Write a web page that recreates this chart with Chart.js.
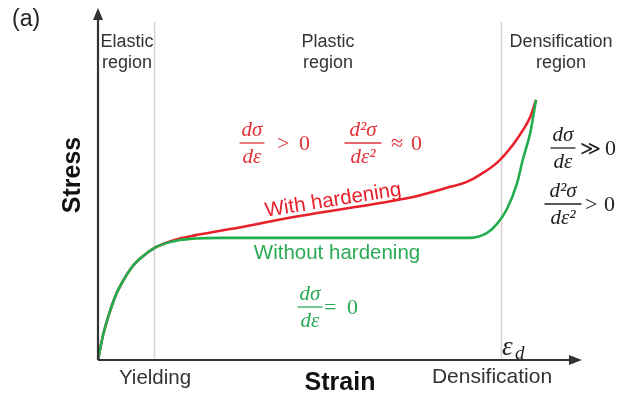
<!DOCTYPE html>
<html>
<head>
<meta charset="utf-8">
<script src="https://cdn.jsdelivr.net/npm/chart.js@4.4.1/dist/chart.umd.min.js"></script>
<style>
html,body{margin:0;padding:0;background:#fff;}
#c{display:block;}
</style>
</head>
<body>
<canvas id="c" width="625" height="398"></canvas>
<script>
// ---- data (schematic stress-strain curves) ----
const strainGreen = [0, 1.0, 2.3, 3.7, 5.4, 7.2, 9.3, 11.6, 14.1, 16.9, 20.0, 25.2, 40.0, 55.0, 68.6, 76.9, 80.4, 82.4, 84.5, 86.6, 87.8, 89.3, 90.5];
const stressGreen = [0, 6.8, 13.1, 18.5, 23.0, 26.7, 29.5, 31.8, 33.2, 34.1, 34.5, 34.7, 34.7, 34.7, 34.7, 34.7, 36.1, 38.6, 42.9, 50.3, 57.1, 64.5, 73.9];
const strainRed   = [0, 1.0, 2.3, 3.7, 5.4, 7.2, 9.3, 11.6, 14.1, 16.9, 20.0, 27.3, 41.7, 58.3, 65.1, 72.1, 76.2, 78.9, 82.4, 85.7, 87.8, 89.3, 90.5];
const stressRed   = [0, 6.8, 13.1, 18.5, 23.0, 26.7, 29.5, 31.8, 33.3, 34.5, 35.4, 37.2, 40.9, 44.6, 46.3, 48.9, 50.6, 52.6, 56.0, 61.1, 65.3, 69.0, 73.9];
const regionBounds = [11.6, 83.3];          // yielding strain, densification strain
const regionNames = [["Elastic","region"],["Plastic","region"],["Densification","region"]];
const seriesNames = ["With hardening", "Without hardening"];

const RED = '#e8202a', GREEN = '#22ad4e', DARK = '#333333';

const toPts = (xs, ys) => xs.map((x, i) => ({x: x, y: ys[i]}));

const SERIF_I = (s) => 'italic ' + s + 'px "Liberation Serif", "DejaVu Serif", serif';
const SERIF = (s) => s + 'px "Liberation Serif", "DejaVu Serif", serif';
const SANS = (s, b) => (b ? 'bold ' : '') + s + 'px "Liberation Sans", Arial, sans-serif';

function txt(ctx, s, x, y, font, color, align, base) {
  ctx.font = font; ctx.fillStyle = color;
  ctx.textAlign = align || 'center'; ctx.textBaseline = base || 'middle';
  ctx.fillText(s, x, y);
}
function frac(ctx, cx, by, w, num, den, color) {
  ctx.save();
  txt(ctx, num, cx, by - 7, SERIF_I(21), color, 'center', 'alphabetic');
  txt(ctx, den, cx, by + 20, SERIF_I(21), color, 'center', 'alphabetic');
  ctx.strokeStyle = color; ctx.lineWidth = 1.3;
  ctx.beginPath(); ctx.moveTo(cx - w/2, by); ctx.lineTo(cx + w/2, by); ctx.stroke();
  ctx.restore();
}

const deco = {
  id: 'deco',
  beforeDatasetsDraw(chart) {
    const {ctx, chartArea: a, scales: {x}} = chart;
    ctx.save();
    ctx.strokeStyle = '#d4d4d4'; ctx.lineWidth = 1.5;
    regionBounds.forEach(v => {
      const px = Math.round(x.getPixelForValue(v)) + 0.5;
      ctx.beginPath(); ctx.moveTo(px, a.top + 14); ctx.lineTo(px, a.bottom); ctx.stroke();
    });
    ctx.restore();
  },
  afterDraw(chart) {
    const {ctx, chartArea: a} = chart;
    ctx.save();
    // axes with arrows
    ctx.strokeStyle = DARK; ctx.fillStyle = DARK; ctx.lineWidth = 2.2;
    ctx.beginPath(); ctx.moveTo(a.left, a.bottom); ctx.lineTo(a.right - 10, a.bottom); ctx.stroke();
    ctx.beginPath(); ctx.moveTo(a.left, a.bottom); ctx.lineTo(a.left, a.top + 10); ctx.stroke();
    ctx.beginPath(); ctx.moveTo(a.right, a.bottom); ctx.lineTo(a.right - 13, a.bottom - 5); ctx.lineTo(a.right - 13, a.bottom + 5); ctx.closePath(); ctx.fill();
    ctx.beginPath(); ctx.moveTo(a.left, a.top); ctx.lineTo(a.left - 5, a.top + 12); ctx.lineTo(a.left + 5, a.top + 12); ctx.closePath(); ctx.fill();

    // panel label
    txt(ctx, '(a)', 12, 20, SANS(23), '#222', 'left');
    // region labels
    const cxs = [127, 328, 561];
    regionNames.forEach((r, i) => {
      txt(ctx, r[0], cxs[i], 42, SANS(18), DARK);
      txt(ctx, r[1], cxs[i], 63, SANS(18), DARK);
    });
    // axis titles
    txt(ctx, 'Strain', 340, 383, SANS(25, true), '#111');
    ctx.save(); ctx.translate(73, 175); ctx.rotate(-Math.PI/2);
    txt(ctx, 'Stress', 0, 0, SANS(25, true), '#111');
    ctx.restore();
    txt(ctx, 'Yielding', 155, 378, SANS(20.5), DARK);
    txt(ctx, 'Densification', 492, 377, SANS(21), DARK);
    // epsilon_d
    txt(ctx, 'ε', 502, 355, SERIF_I(27), '#222', 'left', 'alphabetic');
    txt(ctx, 'd', 515, 359, SERIF_I(19), '#222', 'left', 'alphabetic');

    // curve labels
    ctx.save(); ctx.translate(334, 206); ctx.rotate(-9 * Math.PI / 180);
    txt(ctx, seriesNames[0], 0, 0, SANS(20.5), RED, 'center', 'alphabetic');
    ctx.restore();
    txt(ctx, seriesNames[1], 337, 259, SANS(20.5), '#2aaa55', 'center', 'alphabetic');

    // formulas
    const RT = '#e2323a', GT = '#2aaa55', KT = '#222';
    frac(ctx, 252, 143, 25, 'dσ', 'dε', RT);
    txt(ctx, '>', 277, 150, SERIF(22), RT, 'left', 'alphabetic');
    txt(ctx, '0', 299, 150, SERIF(22), RT, 'left', 'alphabetic');
    frac(ctx, 363, 143, 37, 'd²σ', 'dε²', RT);
    txt(ctx, '≈', 391, 150, SERIF(22), RT, 'left', 'alphabetic');
    txt(ctx, '0', 411, 150, SERIF(22), RT, 'left', 'alphabetic');

    frac(ctx, 563, 148, 25, 'dσ', 'dε', KT);
    txt(ctx, '≫', 580, 155, SERIF(20), KT, 'left', 'alphabetic');
    txt(ctx, '0', 605, 155, SERIF(22), KT, 'left', 'alphabetic');
    frac(ctx, 563, 204, 37, 'd²σ', 'dε²', KT);
    txt(ctx, '>', 585, 211, SERIF(22), KT, 'left', 'alphabetic');
    txt(ctx, '0', 604, 211, SERIF(22), KT, 'left', 'alphabetic');

    frac(ctx, 310, 307, 25, 'dσ', 'dε', GT);
    txt(ctx, '=', 324, 314, SERIF(22), GT, 'left', 'alphabetic');
    txt(ctx, '0', 347, 314, SERIF(22), GT, 'left', 'alphabetic');
    ctx.restore();
  }
};

new Chart(document.getElementById('c'), {
  type: 'line',
  data: {
    datasets: [
      { label: seriesNames[0], data: toPts(strainRed, stressRed), borderColor: RED, borderWidth: 2.6,
        pointRadius: 0, cubicInterpolationMode: 'monotone', fill: false, order: 2 },
      { label: seriesNames[1], data: toPts(strainGreen, stressGreen), borderColor: GREEN, borderWidth: 2.6,
        pointRadius: 0, cubicInterpolationMode: 'monotone', fill: false, order: 1 }
    ]
  },
  options: {
    responsive: false,
    animation: false,
    layout: { padding: { left: 98, right: 43, top: 8, bottom: 38 } },
    plugins: { legend: { display: false }, tooltip: { enabled: false } },
    scales: {
      x: { type: 'linear', min: 0, max: 100, display: false },
      y: { type: 'linear', min: 0, max: 100, display: false }
    }
  },
  plugins: [deco]
});
</script>
</body>
</html>
